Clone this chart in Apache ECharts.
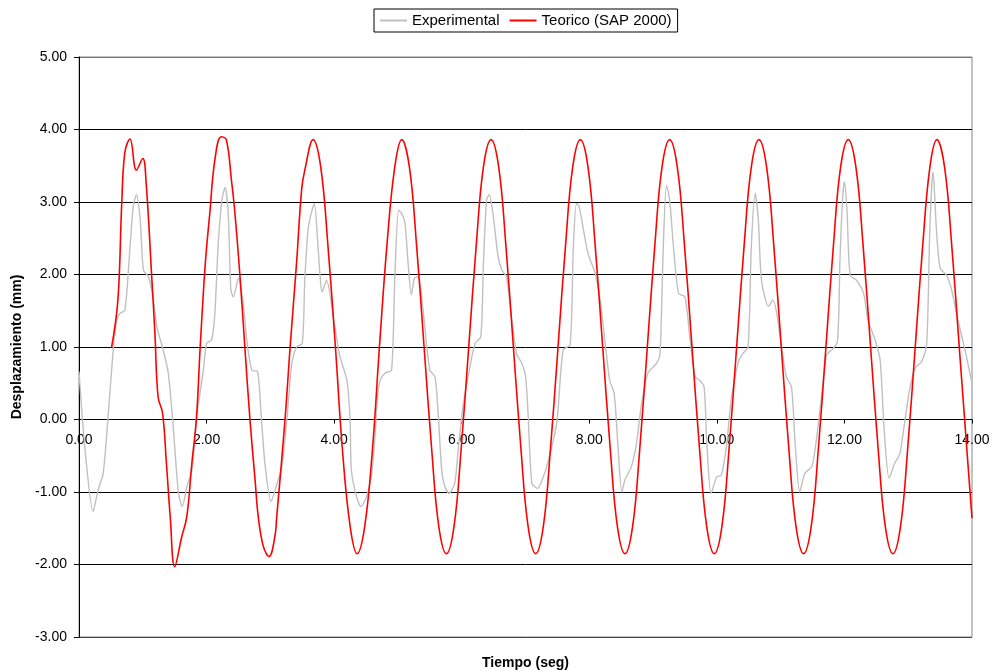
<!DOCTYPE html>
<html>
<head>
<meta charset="utf-8">
<script src="https://cdn.jsdelivr.net/npm/echarts@6/dist/echarts.min.js"></script>
<style>
html,body{margin:0;padding:0;background:#fff;}
#chart{width:993px;height:672px;}
</style>
</head>
<body>
<div id="chart"></div>
<script>
// Experimental: [time (s), displacement (mm)]
var experimental = [
[0.00,0.66],[0.09,-0.37],[0.22,-1.27],[0.30,-0.97],[0.38,-0.74],[0.46,0.09],[0.54,1.00],[0.59,1.37],[0.64,1.46],[0.72,1.51],
[0.80,2.38],[0.85,2.94],[0.90,3.10],[0.96,2.75],[1.01,2.06],[1.09,1.97],[1.16,1.69],[1.22,1.28],[1.32,0.96],[1.40,0.64],
[1.48,-0.14],[1.56,-1.02],[1.62,-1.20],[1.69,-0.93],[1.77,-0.70],[1.84,0.00],[1.95,0.68],[2.00,1.05],[2.08,1.10],[2.13,1.46],
[2.18,2.38],[2.24,3.03],[2.29,3.20],[2.34,2.84],[2.38,1.79],[2.42,1.69],[2.50,1.95],[2.58,1.56],[2.63,1.10],[2.71,0.68],
[2.80,0.66],[2.86,0.00],[2.92,-0.65],[3.01,-1.13],[3.10,-0.90],[3.18,-0.65],[3.26,0.00],[3.33,0.73],[3.41,1.00],[3.50,1.05],
[3.54,1.92],[3.59,2.61],[3.64,2.84],[3.69,2.98],[3.74,2.48],[3.78,1.97],[3.81,1.76],[3.88,1.92],[4.01,1.28],[4.09,0.87],
[4.20,0.54],[4.25,0.00],[4.27,-0.70],[4.35,-1.06],[4.42,-1.20],[4.51,-1.06],[4.59,-0.74],[4.64,-0.24],[4.68,0.31],[4.72,0.54],
[4.80,0.64],[4.90,0.68],[4.95,1.92],[5.01,2.89],[5.06,2.84],[5.11,2.71],[5.16,2.15],[5.21,1.72],[5.26,1.95],[5.32,1.97],
[5.40,1.46],[5.50,0.68],[5.58,0.59],[5.63,0.09],[5.69,-0.74],[5.74,-0.93],[5.80,-1.02],[5.89,-0.88],[5.95,-0.37],[6.02,0.18],
[6.13,0.73],[6.21,1.05],[6.30,1.14],[6.34,2.15],[6.39,3.03],[6.43,3.10],[6.49,2.84],[6.57,2.25],[6.63,2.06],[6.70,1.97],
[6.78,1.42],[6.86,0.91],[6.94,0.78],[7.00,0.60],[7.04,0.09],[7.10,-0.88],[7.19,-0.95],[7.28,-0.79],[7.36,-0.56],[7.49,-0.05],
[7.59,0.96],[7.70,1.03],[7.75,2.38],[7.80,2.98],[7.84,2.94],[7.91,2.61],[7.98,2.29],[8.09,2.02],[8.17,1.65],[8.25,1.05],
[8.32,0.54],[8.39,0.36],[8.45,-0.37],[8.51,-1.00],[8.56,-0.83],[8.66,-0.65],[8.74,-0.33],[8.82,0.22],[8.92,0.64],[9.06,0.78],
[9.11,0.91],[9.16,2.38],[9.21,3.23],[9.26,3.03],[9.32,2.38],[9.40,1.74],[9.50,1.69],[9.58,1.10],[9.66,0.59],[9.73,0.54],
[9.80,0.45],[9.84,-0.28],[9.91,-1.02],[10.00,-0.79],[10.07,-0.77],[10.15,-0.37],[10.23,0.31],[10.34,0.80],[10.41,0.91],[10.49,1.00],
[10.54,2.38],[10.60,3.12],[10.65,2.75],[10.70,1.92],[10.81,1.56],[10.88,1.65],[10.94,1.46],[11.02,0.96],[11.09,0.59],[11.17,0.45],
[11.23,-0.37],[11.30,-1.00],[11.38,-0.74],[11.49,-0.65],[11.56,-0.28],[11.64,0.31],[11.72,0.89],[11.80,0.96],[11.89,1.07],[11.93,2.20],
[11.97,3.03],[12.00,3.28],[12.04,2.89],[12.09,1.99],[12.19,1.92],[12.30,1.74],[12.37,1.37],[12.48,1.10],[12.56,0.82],[12.62,-0.10],
[12.70,-0.81],[12.79,-0.60],[12.87,-0.47],[12.95,0.00],[13.03,0.45],[13.11,0.71],[13.21,0.80],[13.29,1.05],[13.34,2.66],[13.39,3.42],
[13.44,2.66],[13.50,2.09],[13.60,1.99],[13.68,1.79],[13.78,1.37],[13.89,0.96],[13.99,0.54]
];

// Teorico (SAP 2000): [time (s), displacement (mm)]
var teorico = [
[0.51,0.99],[0.61,1.65],[0.67,2.98],[0.72,3.69],[0.80,3.87],[0.90,3.44],[1.00,3.60],[1.05,3.30],[1.14,1.97],[1.19,1.19],
[1.24,0.31],[1.31,0.09],[1.37,-0.60],[1.43,-1.34],[1.50,-2.03],[1.61,-1.62],[1.69,-1.34],[1.77,-0.60],[1.84,0.00],[1.90,1.00],
[1.98,2.15],[2.05,2.84],[2.13,3.58],[2.23,3.90],[2.31,3.86],[2.39,3.30],[2.44,2.89],[2.52,2.02],[2.60,1.00],[2.68,0.00],
[2.76,-0.83],[2.81,-1.34],[2.89,-1.75],[2.98,-1.89],[3.07,-1.62],[3.10,-1.34],[3.23,0.00],[3.31,1.00],[3.41,2.15],[3.49,3.17],
[3.54,3.44],[3.67,3.86],[3.79,3.48],[3.90,2.43],[4.02,1.00],[4.13,-0.42],[4.25,-1.47],[4.36,-1.85],[4.48,-1.47],[4.60,-0.42],
[4.71,1.00],[4.83,2.43],[4.95,3.48],[5.06,3.86],[5.18,3.48],[5.29,2.43],[5.41,1.00],[5.53,-0.42],[5.64,-1.47],[5.76,-1.85],
[5.88,-1.47],[5.99,-0.42],[6.11,1.00],[6.23,2.43],[6.34,3.48],[6.46,3.86],[6.58,3.48],[6.69,2.43],[6.81,1.00],[6.93,-0.42],
[7.04,-1.47],[7.16,-1.85],[7.28,-1.47],[7.39,-0.42],[7.51,1.00],[7.63,2.43],[7.74,3.48],[7.86,3.86],[7.98,3.48],[8.09,2.43],
[8.21,1.00],[8.33,-0.42],[8.44,-1.47],[8.56,-1.85],[8.68,-1.47],[8.79,-0.42],[8.91,1.00],[9.03,2.43],[9.14,3.48],[9.26,3.86],
[9.38,3.48],[9.49,2.43],[9.61,1.00],[9.73,-0.42],[9.84,-1.47],[9.96,-1.85],[10.08,-1.47],[10.19,-0.42],[10.31,1.00],[10.43,2.43],
[10.54,3.48],[10.66,3.86],[10.78,3.48],[10.89,2.43],[11.01,1.00],[11.13,-0.42],[11.24,-1.47],[11.36,-1.85],[11.48,-1.47],[11.59,-0.42],
[11.71,1.00],[11.83,2.43],[11.94,3.48],[12.06,3.86],[12.18,3.48],[12.29,2.43],[12.41,1.00],[12.53,-0.42],[12.64,-1.47],[12.76,-1.85],
[12.88,-1.47],[12.99,-0.42],[13.11,1.00],[13.23,2.43],[13.34,3.48],[13.45,3.86],[13.57,3.48],[13.68,2.43],[13.80,1.00],[13.92,-0.42],
[14.00,-1.36]
];

var seriesNames = ['Experimental', 'Teorico (SAP 2000)'];
var xTitle = 'Tiempo (seg)';
var yTitle = 'Desplazamiento (mm)';

var chart = echarts.init(document.getElementById('chart'), null, {renderer: 'canvas'});
var font = 'Liberation Sans, Arial, sans-serif';
chart.setOption({
  animation: false,
  backgroundColor: '#fff',
  textStyle: {fontFamily: font},
  legend: {
    data: seriesNames,
    left: 374, top: 9,
    padding: [4, 6],
    icon: 'rect',
    itemWidth: 27, itemHeight: 2, itemGap: 10,
    borderColor: '#000', borderWidth: 1,
    textStyle: {fontFamily: font, fontSize: 15, color: '#000'}
  },
  grid: {left: 79, right: 21, top: 57, bottom: 35, show: true, borderColor: '#888', borderWidth: 1,
         containLabel: false, outerBoundsMode: 'none'},
  xAxis: {
    type: 'value', min: 0, max: 14, interval: 2,
    offset: -217.5,
    name: xTitle, nameLocation: 'middle', nameGap: 237,
    nameTextStyle: {fontFamily: font, fontSize: 14, fontWeight: 'bold', color: '#000'},
    axisLine: {onZero: false, lineStyle: {color: '#000', width: 1}},
    axisTick: {show: true, length: 4, lineStyle: {color: '#000'}},
    axisLabel: {margin: 14, fontFamily: font, fontSize: 14, color: '#000', formatter: function (v) { return v.toFixed(2); }},
    splitLine: {show: false}
  },
  yAxis: {
    type: 'value', min: -3, max: 5, interval: 1,
    name: yTitle, nameLocation: 'middle', nameGap: 52, nameRotate: 90,
    nameTextStyle: {fontFamily: font, fontSize: 14, fontWeight: 'bold', color: '#000'},
    axisLine: {show: true, lineStyle: {color: '#000', width: 1}},
    axisTick: {show: true, length: 5, lineStyle: {color: '#000'}},
    axisLabel: {margin: 12, fontFamily: font, fontSize: 14, color: '#000', formatter: function (v) { return v.toFixed(2); }},
    splitLine: {show: true, lineStyle: {color: ['#444','#000','#000','#000','#000','#000','#000','#000','#777'], width: 1}}
  },
  series: [
    {
      name: seriesNames[0], type: 'line', data: experimental,
      showSymbol: false, symbol: 'none', smooth: 0.25,
      lineStyle: {color: '#c0c0c0', width: 1.4},
      itemStyle: {color: '#c0c0c0'}, z: 2
    },
    {
      name: seriesNames[1], type: 'line', data: teorico,
      showSymbol: false, symbol: 'none', smooth: 0.4,
      lineStyle: {color: '#ff0000', width: 1.6},
      itemStyle: {color: '#ff0000'}, z: 3
    }
  ]
});
</script>
</body>
</html>
